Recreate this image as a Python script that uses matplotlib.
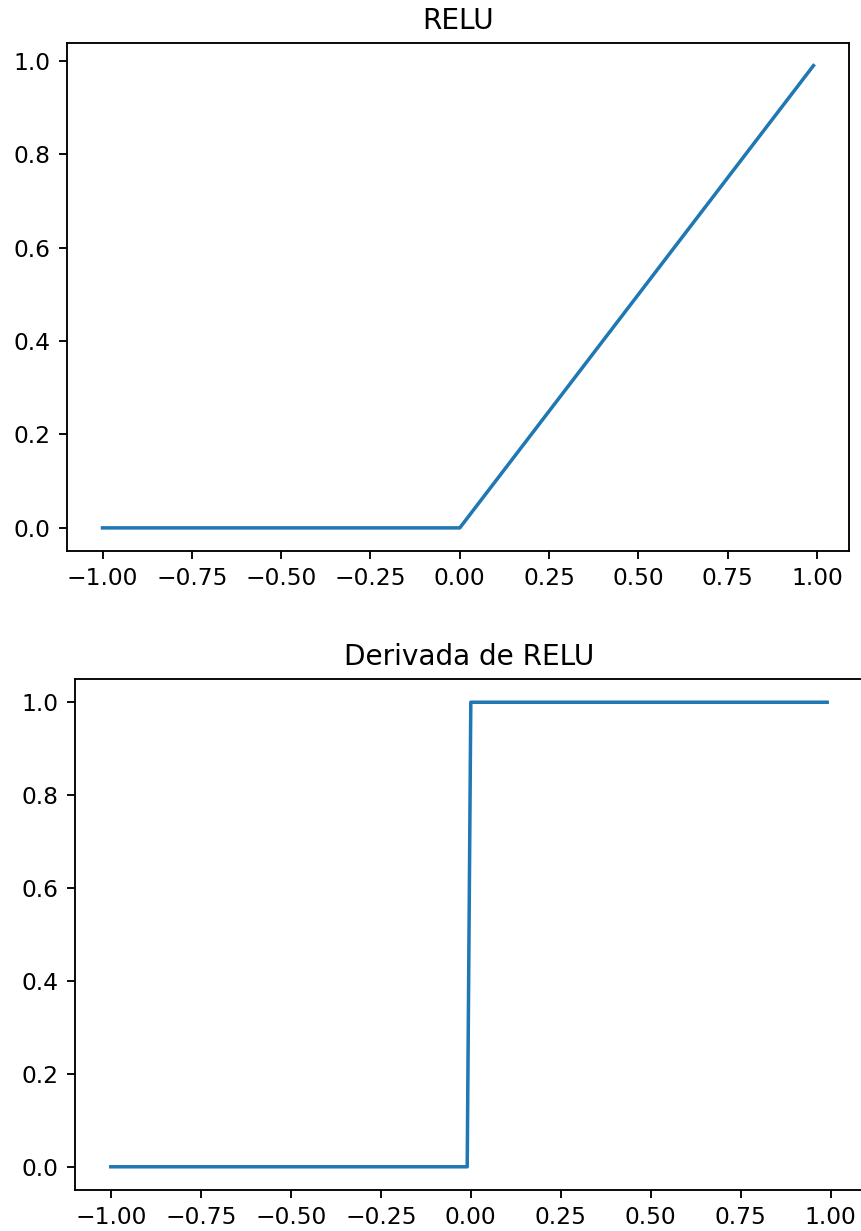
import matplotlib
matplotlib.use("Agg")
import matplotlib.pyplot as plt

# ReLU breakpoints
relu_x = [-1.0, 0.0, 0.99]
relu_y = [0.0, 0.0, 0.99]

# Derivative of ReLU (step sampled at 0.01 spacing)
drelu_x = [-1.0, -0.01, 0.0, 0.99]
drelu_y = [0.0, 0.0, 1.0, 1.0]

DPI = 168
W, H = 861, 1231
fig = plt.figure(figsize=(W / DPI, H / DPI), dpi=DPI)


def px_axes(left, top, right, bottom):
    return fig.add_axes([left / W, 1 - bottom / H, (right - left) / W, (bottom - top) / H])


ax1 = px_axes(67, 42.5, 849, 551)
ax1.plot(relu_x, relu_y)
ax1.set_title("RELU")
ax1.set_xticks([-1.0, -0.75, -0.5, -0.25, 0.0, 0.25, 0.5, 0.75, 1.0])
ax1.set_yticks([0.0, 0.2, 0.4, 0.6, 0.8, 1.0])

ax2 = px_axes(75, 679, 863, 1190)
ax2.plot(drelu_x, drelu_y)
ax2.set_title("Derivada de RELU")
ax2.set_xticks([-1.0, -0.75, -0.5, -0.25, 0.0, 0.25, 0.5, 0.75, 1.0])
ax2.set_yticks([0.0, 0.2, 0.4, 0.6, 0.8, 1.0])
ax2.spines["right"].set_visible(False)

fig.savefig("out.png", dpi=DPI)
